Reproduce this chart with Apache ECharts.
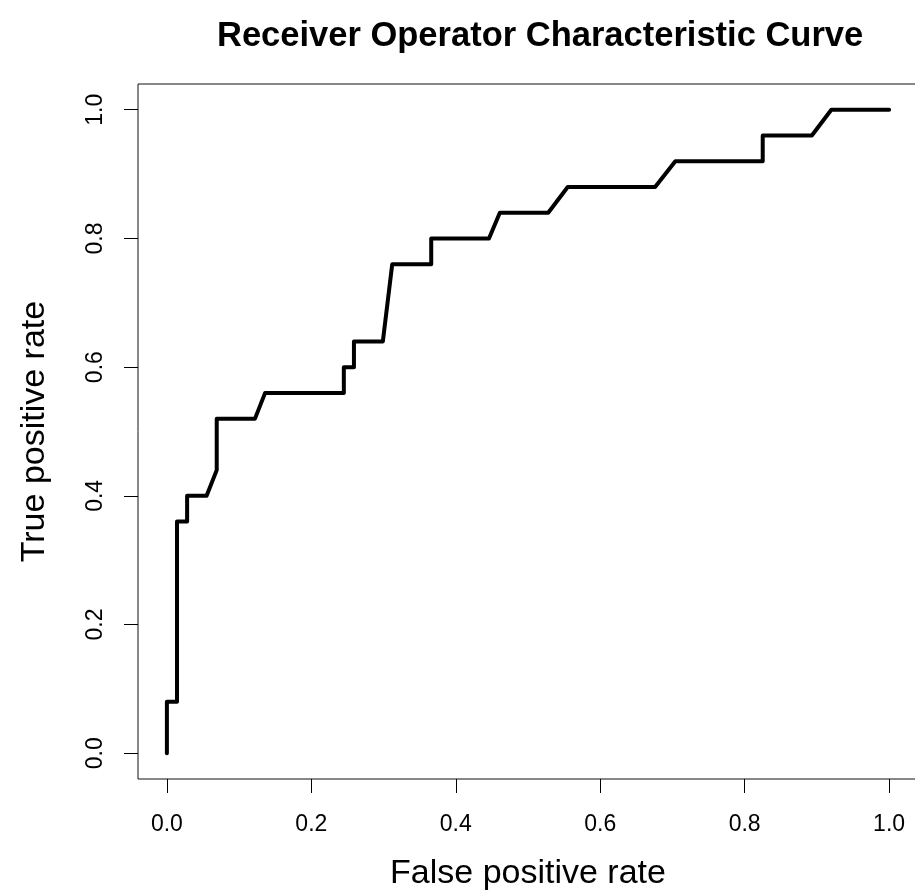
<!DOCTYPE html>
<html>
<head>
<meta charset="utf-8">
<title>ROC curve</title>
<script src="https://cdn.jsdelivr.net/npm/echarts@6/dist/echarts.min.js"></script>
<style>
  html, body { margin: 0; padding: 0; background: #fff; }
  #chart { width: 915px; height: 893px; }
</style>
</head>
<body>
<div id="chart"></div>
<script>
  // ROC points
  var fpr = [0, 0, 0.014, 0.014, 0.028, 0.028, 0.055, 0.069, 0.069, 0.122, 0.136, 0.245, 0.245, 0.259, 0.259,
    0.299, 0.312, 0.366, 0.366, 0.446, 0.461, 0.528, 0.555, 0.676, 0.704, 0.825, 0.825, 0.893, 0.92, 1.0]
  var tpr = [0, 0.08, 0.08, 0.36, 0.36, 0.40, 0.40, 0.44, 0.52, 0.52, 0.56, 0.56, 0.60, 0.60, 0.64,
    0.64, 0.76, 0.76, 0.80, 0.80, 0.84, 0.84, 0.88, 0.88, 0.92, 0.92, 0.96, 0.96, 1.0, 1.0]
  var tickValues = [0, 0.2, 0.4, 0.6, 0.8, 1.0]

  var font = 'Liberation Sans, Arial, Helvetica, sans-serif'
  var points = fpr.map(function (x, i) { return [x, tpr[i]] })

  // R style: range padded by 4% on each side, ticks only at 0..1
  function axis(pos, extra) {
    var a = {
      type: 'value',
      min: -0.04,
      max: 1.04,
      position: pos,
      splitLine: {show: false},
      axisLine: {show: false, onZero: false},
      axisTick: {show: true, inside: false, length: 14, customValues: tickValues, lineStyle: {color: '#000'}},
      axisLabel: {
        margin: 34,
        fontFamily: font,
        fontSize: 23,
        color: '#000',
        customValues: tickValues,
        formatter: function (v) { return v.toFixed(1) }
      },
      nameLocation: 'middle',
      nameTextStyle: {fontFamily: font, fontSize: 34, color: '#000'}
    }
    return Object.assign(a, extra)
  }

  var chart = echarts.init(document.getElementById('chart'))
  chart.setOption({
    animation: false,
    backgroundColor: '#fff',
    title: {
      text: 'Receiver Operator Characteristic Curve',
      left: 212,
      top: 14,
      textStyle: {fontFamily: font, fontSize: 34.5, fontWeight: 'bold', color: '#000'}
    },
    grid: {
      left: 138, top: 84, width: 780, height: 695,
      outerBoundsMode: 'none',
      show: true, borderColor: '#111', borderWidth: 1
    },
    xAxis: axis('bottom', {name: 'False positive rate', nameGap: 78}),
    yAxis: axis('left', {name: 'True positive rate', nameGap: 86, nameRotate: 90}),
    series: [
      {
        type: 'line',
        data: points,
        showSymbol: false,
        symbol: 'none',
        clip: false,
        lineStyle: {color: '#000', width: 4, cap: 'round', join: 'round'}
      }
    ]
  })
  chart.setOption({yAxis: {axisLabel: {rotate: 90, margin: 31}}})
</script>
</body>
</html>
